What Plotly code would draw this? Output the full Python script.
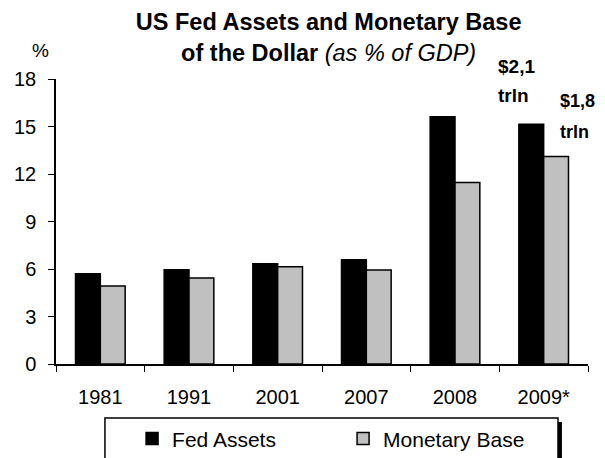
import plotly.graph_objects as go

years = ["1981", "1991", "2001", "2007", "2008", "2009*"]
fed_assets = [5.7, 5.95, 6.33, 6.58, 15.62, 15.14]
monetary_base = [4.92, 5.43, 6.14, 5.93, 11.46, 13.1]
y_ticks = [0, 3, 6, 9, 12, 15, 18]

FONT = "Liberation Sans, Arial, sans-serif"

fig = go.Figure()
fig.add_trace(go.Bar(
    x=years, y=fed_assets, name="Fed Assets",
    marker=dict(color="black", line=dict(color="black", width=1.5)),
))
fig.add_trace(go.Bar(
    x=years, y=monetary_base, name="Monetary Base",
    marker=dict(color="#c0c0c0", line=dict(color="black", width=1.5)),
))

# legend frame with a drop shadow on the right
fig.add_shape(type="rect", xref="paper", yref="paper",
              x0=0.1, x1=0.951, y0=-0.40, y1=-0.2035,
              line=dict(width=0), fillcolor="black", layer="below")
fig.add_shape(type="rect", xref="paper", yref="paper",
              x0=0.092, x1=0.9436, y0=-0.41, y1=-0.1895,
              line=dict(color="black", width=1.5), fillcolor="white", layer="below")

annos = [
    dict(text="<b>$2,1</b>", x=0.827, y=1.043, size=19),
    dict(text="<b>trln</b>", x=0.827, y=0.941, size=19),
    dict(text="<b>$1,8</b>", x=0.943, y=0.923, size=18),
    dict(text="<b>trln</b>", x=0.943, y=0.814, size=18),
]
for a in annos:
    fig.add_annotation(xref="paper", yref="paper", showarrow=False,
                       xanchor="left", yanchor="middle",
                       text=a["text"], x=a["x"], y=a["y"],
                       font=dict(size=a["size"], color="black", family=FONT))
fig.add_annotation(text="%", xref="paper", yref="paper", x=-0.03, y=1.1,
                   showarrow=False, xanchor="center", yanchor="middle",
                   font=dict(size=19, color="black", family=FONT))

fig.update_layout(
    width=605, height=458,
    margin=dict(l=48, r=25, t=71, b=102, autoexpand=False),
    paper_bgcolor="white", plot_bgcolor="white",
    font=dict(family=FONT, size=20, color="black"),
    title=dict(
        text="<b>US Fed Assets and Monetary Base</b><br>"
             "<b>of the Dollar</b> <i>(as % of GDP)</i>",
        x=0.53, xanchor="center", y=0.952, yanchor="top",
        font=dict(size=23.5, color="black"),
    ),
    barmode="group", bargap=0.44, bargroupgap=0,
    showlegend=True,
    legend=dict(
        orientation="h", x=0.143, xanchor="left", y=-0.191, yanchor="top",
        entrywidth=166, entrywidthmode="pixels",
        bgcolor="rgba(0,0,0,0)", font=dict(size=21),
        traceorder="normal",
    ),
    xaxis=dict(
        showline=True, linecolor="black", linewidth=1.5,
        ticks="outside", ticklen=6, tickcolor="black",
        tickson="boundaries", showgrid=False, ticklabelstandoff=14,
    ),
    yaxis=dict(
        range=[0, 18], tickvals=y_ticks,
        showline=True, linecolor="black", linewidth=1.5,
        ticks="outside", ticklen=6, tickcolor="black",
        showgrid=False, zeroline=False, ticklabelstandoff=8,
    ),
)

fig.write_html("out.html")
